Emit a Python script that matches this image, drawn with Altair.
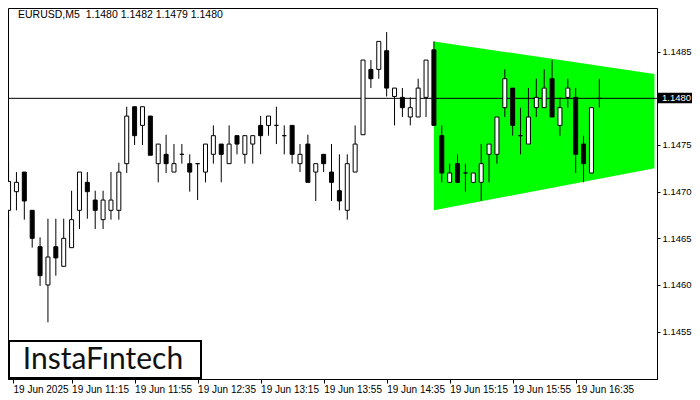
import json
import altair as alt
import pandas as pd

# ---- candle data (EURUSD M5), index 0 = 10:35 ----
opens = [1.14680, 1.14700, 1.14721, 1.14680, 1.14641, 1.14600, 1.14641, 1.14620, 1.14640, 1.14680,
         1.14710, 1.14691, 1.14670, 1.14680, 1.14680, 1.14730, 1.14791, 1.14771, 1.14781, 1.14730,
         1.14740, 1.14721, 1.14740, 1.14730, 1.14730, 1.14721, 1.14740, 1.14751, 1.14730, 1.14760,
         1.14740, 1.14751, 1.14771, 1.14771, 1.14771, 1.14760, 1.14771, 1.14730, 1.14751, 1.14721,
         1.14740, 1.14721, 1.14701, 1.14680, 1.14721, 1.14761, 1.14831, 1.14831, 1.14851, 1.14802,
         1.14801, 1.14780, 1.14780, 1.14801, 1.14852, 1.14760, 1.14710, 1.14730, 1.14720, 1.14710,
         1.14710, 1.14740, 1.14740, 1.14790, 1.14811, 1.14760, 1.14751, 1.14790, 1.14790, 1.14821,
         1.14771, 1.14801, 1.14801, 1.14751, 1.14720, 1.14800]
highs = [1.14732, 1.14721, 1.14721, 1.14680, 1.14651, 1.14671, 1.14671, 1.14671, 1.14701, 1.14721,
         1.14721, 1.14701, 1.14701, 1.14721, 1.14731, 1.14791, 1.14791, 1.14791, 1.14781, 1.14751,
         1.14761, 1.14751, 1.14751, 1.14740, 1.14730, 1.14751, 1.14771, 1.14751, 1.14771, 1.14760,
         1.14760, 1.14760, 1.14781, 1.14781, 1.14791, 1.14771, 1.14771, 1.14751, 1.14761, 1.14730,
         1.14740, 1.14751, 1.14740, 1.14740, 1.14771, 1.14841, 1.14841, 1.14861, 1.14871, 1.14811,
         1.14811, 1.14801, 1.14821, 1.14841, 1.14861, 1.14771, 1.14730, 1.14740, 1.14730, 1.14720,
         1.14751, 1.14751, 1.14780, 1.14831, 1.14811, 1.14790, 1.14811, 1.14821, 1.14831, 1.14841,
         1.14801, 1.14821, 1.14811, 1.14760, 1.14790, 1.14821]
lows = [1.14661, 1.14680, 1.14670, 1.14640, 1.14599, 1.14560, 1.14610, 1.14620, 1.14640, 1.14660,
        1.14671, 1.14660, 1.14660, 1.14670, 1.14670, 1.14720, 1.14750, 1.14750, 1.14739, 1.14710,
        1.14720, 1.14721, 1.14730, 1.14700, 1.14691, 1.14710, 1.14730, 1.14710, 1.14730, 1.14740,
        1.14730, 1.14730, 1.14740, 1.14760, 1.14751, 1.14740, 1.14730, 1.14721, 1.14710, 1.14690,
        1.14721, 1.14690, 1.14680, 1.14670, 1.14721, 1.14761, 1.14811, 1.14821, 1.14802, 1.14771,
        1.14780, 1.14771, 1.14780, 1.14780, 1.14771, 1.14710, 1.14710, 1.14710, 1.14700, 1.14710,
        1.14690, 1.14710, 1.14730, 1.14780, 1.14760, 1.14740, 1.14751, 1.14780, 1.14790, 1.14780,
        1.14760, 1.14790, 1.14720, 1.14710, 1.14720, 1.14790]
closes = [1.14711, 1.14710, 1.14690, 1.14650, 1.14610, 1.14630, 1.14629, 1.14650, 1.14670, 1.14721,
          1.14700, 1.14680, 1.14691, 1.14691, 1.14721, 1.14781, 1.14760, 1.14791, 1.14739, 1.14751,
          1.14730, 1.14730, 1.14740, 1.14721, 1.14730, 1.14751, 1.14760, 1.14740, 1.14751, 1.14751,
          1.14760, 1.14760, 1.14760, 1.14781, 1.14771, 1.14760, 1.14740, 1.14740, 1.14710, 1.14730,
          1.14730, 1.14710, 1.14690, 1.14730, 1.14751, 1.14841, 1.14821, 1.14861, 1.14811, 1.14811,
          1.14790, 1.14790, 1.14811, 1.14841, 1.14771, 1.14720, 1.14720, 1.14710, 1.14720, 1.14720,
          1.14730, 1.14751, 1.14780, 1.14821, 1.14771, 1.14760, 1.14780, 1.14801, 1.14811, 1.14780,
          1.14790, 1.14811, 1.14740, 1.14730, 1.14790, 1.14800]
bar_index = list(range(len(opens)))

# ---- time axis labels (one every 8 bars = 40 minutes) ----
tick_labels = ["19 Jun 2025", "19 Jun 11:15", "19 Jun 11:55", "19 Jun 12:35", "19 Jun 13:15",
               "19 Jun 13:55", "19 Jun 14:35", "19 Jun 15:15", "19 Jun 15:55", "19 Jun 16:35"]
tick_bars = [0, 8, 16, 24, 32, 40, 48, 56, 64, 72]

# ---- price axis ----
price_ticks = [1.1455, 1.1460, 1.1465, 1.1470, 1.1475, 1.1485, 1.1490]
current_price = 1.1480
current_label = "1.1480"

# ---- symmetrical triangle pattern ----
pattern_bars = [54, 82]
pattern_upper = [1.14861, 1.14826]
pattern_lower = [1.14680, 1.14725]

title_text = "EURUSD,M5\u00a0 1.1480 1.1482 1.1479 1.1480"
logo_text = "InstaF\u0131ntech"

FONT = "Liberation Sans"
PLOT_W, PLOT_H = 649, 371
X_MIN = 0.5625
X_MAX = X_MIN + PLOT_W / 8.0
Y_MIN, Y_MAX = 1.1449927, 1.1489679

candles = pd.DataFrame({"bar": bar_index, "open": opens, "high": highs,
                        "low": lows, "close": closes})
pattern = pd.DataFrame({"bar": pattern_bars, "upper": pattern_upper, "lower": pattern_lower})
cur = pd.DataFrame({"price": [current_price], "label": [current_label]})
one = pd.DataFrame({"t": [title_text], "logo": [logo_text]})

x_values = [X_MIN] + tick_bars[1:]
x_scale = alt.Scale(domain=[X_MIN, X_MAX], nice=False, zero=False)
y_scale = alt.Scale(domain=[Y_MIN, Y_MAX], nice=False, zero=False)
x_axis = alt.Axis(values=x_values, labelExpr=json.dumps(tick_labels) + "[round(datum.value / 8)]",
                  title=None, grid=False, domainColor="black", tickColor="black", tickSize=4,
                  labelColor="black", labelFont=FONT, labelFontSize=10, labelAlign="left",
                  labelBaseline="top", labelPadding=1, labelFlush=False, labelOverlap=False)
y_axis = alt.Axis(orient="right", values=price_ticks, format=".4f", title=None, grid=False,
                  domainColor="black", tickColor="black", tickSize=3, labelPadding=2,
                  labelColor="black", labelFont=FONT, labelFontSize=9.5, labelAlign="left",
                  labelBaseline="middle", labelOverlap=False)

def X(field):
    return alt.X(field, type="quantitative", scale=x_scale, axis=x_axis)

def Y(field):
    return alt.Y(field, type="quantitative", scale=y_scale, axis=y_axis)

area = alt.Chart(pattern).mark_area(color="#00FF00", opacity=1, clip=True).encode(
    x=X("bar"), y=Y("upper"), y2="lower")

price_line = alt.Chart(cur).mark_rule(color="black", strokeWidth=1).encode(y=Y("price"))

wicks = alt.Chart(candles).mark_rule(color="black", strokeWidth=1, clip=True).encode(
    x=X("bar"), y=Y("low"), y2="high")

bodies = alt.Chart(candles).mark_bar(size=4, stroke="black", strokeWidth=1, clip=True).encode(
    x=X("bar"), y=Y("open"), y2="close",
    fill=alt.condition("datum.close >= datum.open", alt.value("white"), alt.value("black")))

tag_rect = alt.Chart(cur).mark_rect(color="black", yOffset=-5.5, y2Offset=5).encode(
    y=Y("price"), y2="price", x=alt.value(PLOT_W + 1), x2=alt.value(PLOT_W + 35))

tag_text = alt.Chart(cur).mark_text(color="white", font=FONT, fontSize=9.5, align="left",
                                    baseline="middle").encode(
    y=Y("price"), x=alt.value(PLOT_W + 5), text="label")

title = alt.Chart(one).mark_text(color="black", font=FONT, fontSize=10.5, align="left",
                                 baseline="middle").encode(
    x=alt.value(10), y=alt.value(6.5), text="t")

logo_box = alt.Chart(one).mark_rect(fill="white", stroke="black", strokeWidth=2).encode(
    x=alt.value(1), x2=alt.value(193), y=alt.value(333), y2=alt.value(370))

logo = alt.Chart(one).mark_text(color="#111111", font="Lato", fontSize=30, align="center",
                                baseline="middle").encode(
    x=alt.value(95), y=alt.value(352), text="logo")

chart = alt.layer(area, price_line, wicks, bodies, tag_rect, tag_text, title, logo_box, logo).properties(
    width=PLOT_W, height=PLOT_H,
    autosize=alt.AutoSizeParams(type="none"),
    padding={"left": 0, "top": 0, "right": 684 - PLOT_W, "bottom": 21},
    background="white",
).configure_view(stroke="black", strokeWidth=1)

chart.save("out.html", embed_options={"renderer": "svg", "actions": False})
